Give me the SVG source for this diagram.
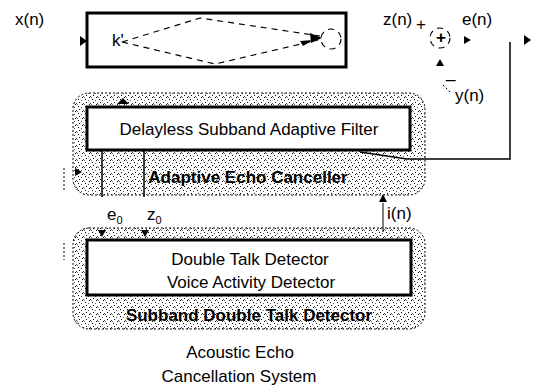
<svg xmlns="http://www.w3.org/2000/svg" width="535" height="385" viewBox="0 0 535 385">
<defs>
<pattern id="stip" width="7" height="7" patternUnits="userSpaceOnUse">
<rect x="0" y="0" width="7" height="7" fill="#ffffff"/>
<rect x="1" y="1" width="1" height="1" fill="#000"/>
<rect x="4" y="2" width="1" height="1" fill="#555"/>
<rect x="2" y="4" width="1" height="1" fill="#000"/>
<rect x="6" y="5" width="1" height="1" fill="#444"/>
<rect x="5" y="6" width="1" height="1" fill="#000"/>
<rect x="0" y="6" width="1" height="1" fill="#777"/>
</pattern>
</defs>
<style>
text{font-family:"Liberation Sans",Arial,sans-serif;font-size:17px;fill:#000}
.c{text-anchor:middle}
.b{font-weight:bold}
.box{fill:#fff;stroke:#000;stroke-width:3}
.region{fill:url(#stip);stroke:#000;stroke-width:1;stroke-dasharray:2 2}
.ln{fill:none;stroke:#000;stroke-width:1.5}
.dl{fill:none;stroke:#000;stroke-width:1.2;stroke-dasharray:6 5}
.ar{fill:#000}
</style>

<g id="plant">
<rect x="87" y="13" width="259" height="54" class="box"/>
<path class="dl" d="M122,42 L200,18 L320,36"/>
<path class="dl" d="M122,42 L215,64 L318,40"/>
<circle cx="331" cy="39" r="10" class="dl" stroke-dasharray="4 4"/>
<text x="112" y="46" font-size="9">k'</text>
</g>

<g id="summer">
<circle cx="440" cy="38" r="10" class="dl" stroke-dasharray="3 4"/>
<text x="441" y="43" class="c b" font-size="14">+</text>
</g>

<g id="aec">
<rect x="73" y="93" width="352" height="102" rx="16" class="region"/>
<text x="248" y="183" class="c b">Adaptive Echo Canceller</text>
</g>

<g id="dsaf">
<rect x="87" y="107" width="323" height="43" class="box"/>
<text x="249" y="135" class="c" font-size="18">Delayless Subband Adaptive Filter</text>
</g>

<g id="sdtd">
<rect x="73" y="228" width="352" height="101" rx="16" class="region"/>
<text x="249" y="321" class="c b">Subband Double Talk Detector</text>
</g>

<g id="dtd">
<rect x="87" y="240" width="324" height="55" class="box"/>
<text x="250" y="265" class="c" font-size="18">Double Talk Detector</text>
<text x="251" y="288" class="c" font-size="18">Voice Activity Detector</text>
</g>

<g id="labels">
<text x="15" y="25">x(n)</text>
<text x="383" y="25">z(n)</text>
<text x="416" y="30" font-size="14">+</text>
<text x="462" y="25">e(n)</text>
<text x="446" y="78" font-size="14">_</text>
<text x="455" y="101">y(n)</text>
<text x="387" y="219">i(n)</text>
<text x="107" y="220">e<tspan font-size="11" dy="4">0</tspan></text>
<text x="147" y="220">z<tspan font-size="11" dy="4">0</tspan></text>
<text x="240" y="358" class="c" font-size="18">Acoustic Echo</text>
<text x="239" y="382" class="c" font-size="18">Cancellation System</text>
</g>

<g id="connectors">
<path class="ar" d="M80,36 L87,41 L80,46 z"/>
<path class="ar" d="M310,33 L322,38 L311,43 z"/>
<path class="ar" d="M300,41 L313,40 L303,46 z"/>
<path class="ar" d="M464,36 L471,40 L464,44 z"/>
<path class="ar" d="M524,35 L531,40 L524,45 z"/>
<path class="ar" d="M436,66 L440,59 L444,66 z"/>
<line x1="443" y1="85" x2="450" y2="92" stroke="#000" stroke-width="1" stroke-dasharray="2 2"/>
<path class="ln" d="M510,42 L510,159 L407,159 L360,152"/>
<path class="ar" d="M117,104 L123,98 L129,104 z"/>
<line x1="102" y1="150" x2="102" y2="197" class="ln" stroke-width="1"/>
<line x1="144" y1="150" x2="144" y2="197" class="ln" stroke-width="1"/>
<path class="ar" d="M75,168 L82,172 L75,176 z"/>
<line x1="64" y1="168" x2="64" y2="192" stroke="#000" stroke-width="1" stroke-dasharray="2 2"/>
<line x1="64" y1="243" x2="64" y2="260" stroke="#000" stroke-width="1" stroke-dasharray="2 2"/>
<path class="ar" d="M98,230 L106,230 L102,237 z"/>
<path class="ar" d="M141,230 L149,230 L145,237 z"/>
<line x1="383" y1="232" x2="383" y2="203" stroke="#000" stroke-width="1"/>
<path class="ar" d="M379,202 L383,194 L387,202 z"/>
</g>
</svg>
